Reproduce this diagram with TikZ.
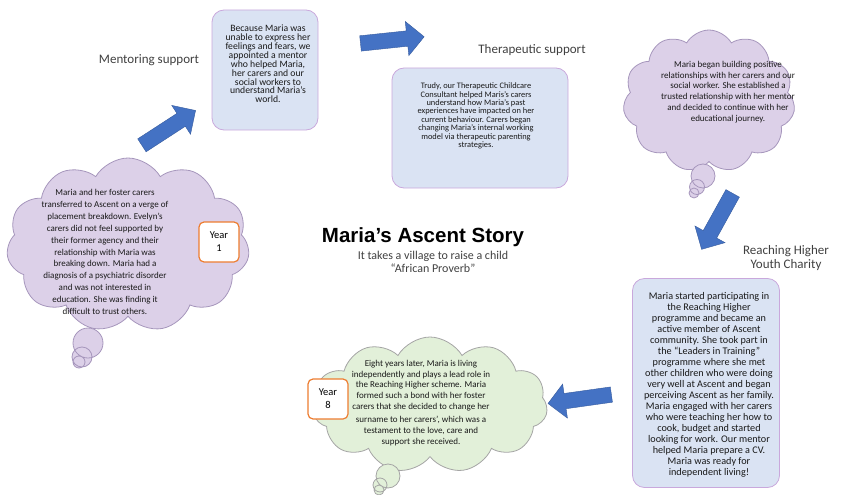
\documentclass[tikz,border=0pt]{standalone}
\usepackage{fontspec}
\setmainfont{Carlito}
\newfontfamily\titlefont{Liberation Sans}
\usetikzlibrary{shapes.symbols, shapes.arrows}
\definecolor{boxfill}{HTML}{DAE3F3}
\definecolor{boxline}{HTML}{C9A8DC}
\definecolor{cloudfill}{HTML}{DCD0E8}
\definecolor{cloudline}{HTML}{A696BC}
\definecolor{greenfill}{HTML}{E2F0D9}
\definecolor{greenline}{HTML}{A5A5A5}
\definecolor{arrowblue}{HTML}{4472C4}
\definecolor{yearline}{HTML}{ED7D31}
\definecolor{labelgrey}{HTML}{404040}
\tikzstyle{storyBox} = [rectangle, rounded corners=12pt, fill=boxfill, draw=boxline, line width=0.8pt, inner sep=0pt]
\tikzstyle{thoughtNode} = [cloud, cloud puffs=11, cloud puff arc=120, cloud ignores aspect, fill=cloudfill, draw=cloudline, line width=0.8pt, inner sep=0pt]
\tikzstyle{bubble} = [fill=cloudfill, draw=cloudline, line width=0.8pt]
\tikzstyle{yearNode} = [rectangle, rounded corners=5pt, fill=white, draw=yearline, line width=1.2pt, minimum width=40pt, minimum height=40pt, align=center, font=\fontsize{10.5}{13}\selectfont]
\tikzstyle{stepArrow} = [single arrow, fill=arrowblue, draw=arrowblue!80!black, line width=0.4pt, inner xsep=0pt, inner ysep=7.5pt, single arrow head extend=9.5pt, minimum height=64pt]
\tikzstyle{storyText} = [align=center, text=black!90]
\tikzstyle{headText} = [align=center, text=labelgrey, font=\fontsize{13}{14}\selectfont]

\begin{document}
\begin{tikzpicture}[x=1pt, y=-1pt]
        \useasboundingbox (0,0) rectangle (851,495);

        % thought clouds
        \node (cloudStart) [thoughtNode, minimum width=243pt, minimum height=174pt] at (128,245) {};
        \node (cloudTrust) [thoughtNode, minimum width=172pt, minimum height=142pt] at (709,101) {};
        \node (cloudEnd) [thoughtNode, fill=greenfill, draw=greenline, minimum width=235pt, minimum height=136pt] at (430,405) {};
        \draw [bubble] (88,343) circle (15pt) (82,357) circle (10pt) (79,362) circle (6pt);
        \draw [bubble] (703,176) circle (12pt) (697,187) circle (7.5pt) (694,193) circle (5pt);
        \draw [bubble, fill=greenfill, draw=greenline] (388,476) circle (12pt) (380,485) circle (7pt) (379,490) circle (5pt);

        % boxes
        \node (mentorBox) [storyBox, minimum width=106pt, minimum height=120pt] at (265,70) {};
        \node (therapyBox) [storyBox, minimum width=176pt, minimum height=120pt] at (480,128) {};
        \node (charityBox) [storyBox, minimum width=147pt, minimum height=209pt] at (706,383) {};

        % texts
        \node (startText) [storyText, font=\fontsize{9}{11.9}\selectfont] at (105,252) {Maria and her foster carers\\transferred to Ascent on a verge of\\placement breakdown. Evelyn's\\carers did not feel  supported by\\their former agency and their\\relationship with Maria was\\breaking down. Maria had a\\diagnosis of a psychiatric disorder\\and was not interested in\\education. She was finding it\\difficult to trust others.};
        \node (mentorText) [storyText, font=\fontsize{9.7}{8.9}\selectfont] at (268,64) {Because Maria was\\unable to express her\\feelings and fears, we\\appointed a mentor\\who helped Maria,\\her carers and our\\social workers to\\understand Maria's\\world.};
        \node (therapyText) [storyText, font=\fontsize{8.4}{8.4}\selectfont] at (476,116) {Trudy, our Therapeutic Childcare\\Consultant helped Maris's carers\\understand how Maria's past\\experiences have impacted on her\\current behaviour.  Carers began\\changing Maria's internal working\\model via therapeutic parenting\\strategies.};
        \node (trustText) [storyText, font=\fontsize{9}{10.8}\selectfont] at (728,92) {Maria began building positive\\relationships with her carers and our\\social worker. She established a\\trusted relationship with her mentor\\and decided to continue with her\\educational journey.};
        \node (charityText) [storyText, font=\fontsize{10.2}{11}\selectfont] at (709,385) {Maria started participating in\\the Reaching Higher\\programme and became an\\active member of Ascent\\community. She took part in\\the ``Leaders in Training''\\programme where she met\\other children who were doing\\very well at Ascent and began\\perceiving Ascent as her family.\\Maria engaged with her carers\\who were teaching her how to\\cook, budget and started\\looking for work. Our mentor\\helped Maria prepare a CV.\\Maria was ready for\\independent living!};
        \node (endText) [storyText, font=\fontsize{9}{10.7}\selectfont] at (421,403) {Eight years later, Maria  is living\\independently and plays a lead role in\\the Reaching Higher scheme. Maria\\formed such a bond with her foster\\carers that she decided to change her\\[3pt]surname to her carers', which was a\\testament to the love, care and\\support she received.};

        \node (yearOne) [yearNode] at (219,242) {Year\\1};
        \node (yearEight) [yearNode] at (328,399) {Year\\8};

        % title and labels
        \node (title) [font=\titlefont\bfseries\fontsize{20.5}{24}\selectfont] at (423,237) {Maria’s Ascent Story};
        \node (proverb) [storyText, font=\fontsize{12}{13}\selectfont, text=labelgrey] at (433,261.5) {It takes a village to raise a child\\``African Proverb''};
        \node (mentorLabel) [headText] at (149,60) {Mentoring support};
        \node (therapyLabel) [headText] at (532,50) {Therapeutic support};
        \node (charityLabel) [headText] at (786,258) {Reaching Higher\\Youth Charity};

        % block arrows
        \node (arrowMentor) [stepArrow, rotate=33] at (165.5,130) {};
        \node (arrowTherapy) [stepArrow, rotate=6] at (388.5,40.5) {};
        \node (arrowCharity) [stepArrow, rotate=241] at (719,218) {};
        \node (arrowEnd) [stepArrow, rotate=188] at (583.5,398.5) {};
\end{tikzpicture}
\end{document}
